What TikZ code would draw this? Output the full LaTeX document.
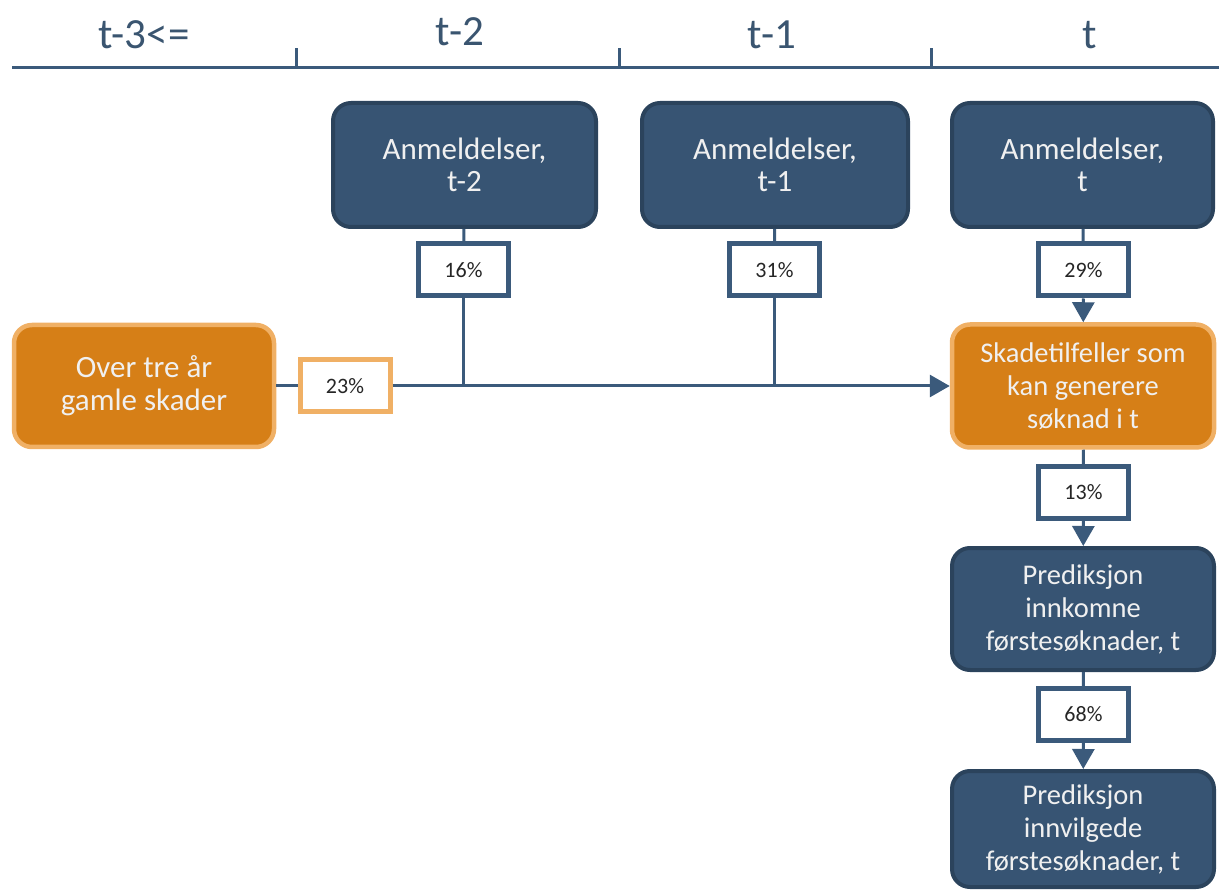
\documentclass[tikz,border=0pt]{standalone}
\usepackage{fontspec}
\setmainfont{Carlito}
\usetikzlibrary{arrows.meta}
\definecolor{bluefill}{HTML}{375473}
\definecolor{blueedge}{HTML}{2B435C}
\definecolor{linecol}{HTML}{3B5A7B}
\definecolor{orfill}{HTML}{D67F17}
\definecolor{oredge}{HTML}{F0B065}
\definecolor{hdrtext}{HTML}{3A5570}
\tikzset{
  boxbase/.style={line width=4pt, rounded corners=18pt,
    text=white!94!black, align=center, inner sep=0pt},
  bluebox/.style={boxbase, draw=blueedge, fill=bluefill, font=\fontsize{28.5}{33}\selectfont},
  bigblue/.style={bluebox, font=\fontsize{31}{32}\selectfont},
  orbox/.style={boxbase, draw=oredge, fill=orfill, line width=4.5pt, font=\fontsize{28.5}{33}\selectfont},
  bigor/.style={orbox, font=\fontsize{31}{33}\selectfont},
  pctbox/.style={draw=linecol, fill=white, line width=5pt, minimum width=90pt, minimum height=52pt,
    inner sep=0pt, font=\fontsize{22}{24}\selectfont, text=black!85},
  pctor/.style={pctbox, draw=oredge},
  conn/.style={draw=linecol, line width=3pt},
  arr/.style={conn, -{Triangle[width=22pt,length=20pt]}},
  hdr/.style={font=\fontsize{43}{45}\selectfont, text=hdrtext},
}
\begin{document}
\begin{tikzpicture}[x=1pt,y=-1pt]
\useasboundingbox (0,0) rectangle (1219,890);
% header
\draw[conn] (12,68) -- (1219,68);
\draw[conn] (296,68) -- (296,48);
\draw[conn] (619,68) -- (619,48);
\draw[conn] (931,68) -- (931,48);
\node[hdr] (h3) at (144,35) {t-3<=};
\node[hdr] (h2) at (460,32) {t-2};
\node[hdr] (h1) at (772,35) {t-1};
\node[hdr] (h0) at (1090,35) {t};
% top boxes
\node[bigblue, minimum width=263pt, minimum height=124pt] (a2) at (464.5,165) {Anmeldelser,\\t-2};
\node[bigblue, minimum width=266pt, minimum height=124pt] (a1) at (775,165) {Anmeldelser,\\t-1};
\node[bigblue, minimum width=261pt, minimum height=124pt] (a0) at (1082.5,165) {Anmeldelser,\\t};
% percent boxes
\node[pctbox] (p16) at (463.5,270) {16\%};
\node[pctbox] (p31) at (774.5,270) {31\%};
\node[pctbox] (p29) at (1083.5,270) {29\%};
% orange boxes
\node[bigor, minimum width=260pt, minimum height=122pt] (old) at (144,386) {Over tre år\\gamle skader};
\node[pctor] (p23) at (345,386) {23\%};
\node[orbox, minimum width=262pt, minimum height=123pt] (sk) at (1083,386) {Skadetilfeller som\\kan generere\\søknad i t};
\node[pctbox] (p13) at (1083.5,492.5) {13\%};
\node[bluebox, minimum width=262pt, minimum height=122pt] (pi) at (1083,609) {Prediksjon\\innkomne\\førstesøknader, t};
\node[pctbox] (p68) at (1083.5,714.5) {68\%};
\node[bluebox, minimum width=262pt, minimum height=116pt] (pv) at (1083,829) {Prediksjon\\innvilgede\\førstesøknader, t};
% junctions
\coordinate (j2) at (463.5,386);
\coordinate (j1) at (774.5,386);
% connectors
\draw[conn] (a2) -- (p16);
\draw[conn] (p16) -- (j2);
\draw[conn] (a1) -- (p31);
\draw[conn] (p31) -- (j1);
\draw[conn] (a0) -- (p29);
\draw[arr] (p29) -- (sk);
\draw[conn] (old) -- (p23);
\draw[arr] (p23) -- (sk);
\draw[conn] (sk) -- (p13);
\draw[arr] (p13) -- (pi);
\draw[conn] (pi) -- (p68);
\draw[arr] (p68) -- (pv);
\end{tikzpicture}
\end{document}
